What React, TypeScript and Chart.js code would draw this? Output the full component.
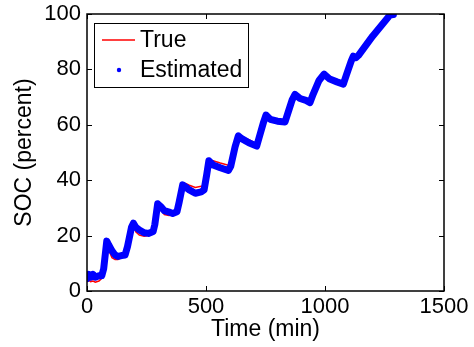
import React, { useEffect, useRef } from "react";
import { Chart, registerables } from "chart.js";

Chart.register(...registerables);

// Time in minutes
const timeMin = [
  0, 8, 15, 25, 35, 50, 62, 70, 83, 92, 105, 118, 130, 145, 160, 170, 187, 195,
  205, 220, 240, 258, 278, 285, 297, 310, 325, 345, 360, 378, 387, 402, 415, 430,
  455, 480, 492, 503, 512, 530, 560, 594, 604, 622, 636, 650, 680, 713, 722, 742,
  752, 770, 800, 832, 845, 862, 874, 895, 920, 937, 950, 975, 996, 1020, 1050,
  1077, 1090, 1110, 1119, 1130, 1140, 1200, 1273, 1287,
];

// True SOC (percent)
const socTrue = [
  3.5, 3.8, 3.4, 3.6, 3.2, 3.6, 4.6, 7.5, 17.5, 14.6, 12.0, 11.4, 11.4, 12.0, 12.6, 16.0, 23.0, 24.5,
  21.4, 20.2, 19.8, 20.0, 21.0, 24.0, 31.5, 29.4, 27.6, 27.3, 27.4, 28.4, 32.0, 38.6, 38.8, 38.2,
  37.4, 37.8, 37.8, 42.0, 47.0, 47.0, 46.2, 45.4, 45.6, 52.0, 56.0, 55.8, 54.6, 53.2, 55.0, 61.0,
  63.5, 62.3, 61.6, 61.3, 64.5, 69.0, 71.0, 69.8, 69.0, 68.3, 71.0, 76.0, 78.3, 76.8, 75.8,
  75.0, 78.0, 83.0, 84.8, 84.4, 85.0, 92.0, 99.6, 99.8,
];

// Estimated SOC (percent)
const socEst = [
  4.5, 6.0, 5.0, 6.0, 5.0, 5.5, 5.5, 8.0, 18.0, 16.5, 14.5, 13.0, 12.5, 12.8, 13.0, 16.0, 23.0, 24.5,
  23.0, 22.0, 21.0, 20.8, 21.5, 24.0, 31.5, 30.5, 29.0, 28.5, 28.0, 28.6, 32.0, 38.3, 37.5, 36.5,
  35.3, 35.8, 36.5, 42.0, 47.0, 45.5, 44.5, 43.5, 45.0, 52.0, 56.0, 55.0, 53.5, 52.3, 55.0, 61.0,
  63.5, 62.0, 61.3, 61.0, 64.5, 69.0, 71.0, 69.5, 68.8, 68.0, 71.0, 76.0, 78.3, 76.5, 75.5,
  74.7, 78.0, 83.0, 84.8, 84.2, 85.0, 92.0, 99.6, 99.8,
];

const xTicks = [0, 500, 1000, 1500];
const yTicks = [0, 20, 40, 60, 80, 100];

const FONT = "'Liberation Sans', Arial, Helvetica, sans-serif";

const matlabPlugin = {
  id: "matlabBox",
  afterDraw(chart: any) {
    const { ctx, chartArea: a, scales } = chart;
    ctx.save();
    ctx.strokeStyle = "#000";
    ctx.lineWidth = 1;
    const L = 5;
    const seg = (x1: number, y1: number, x2: number, y2: number) => {
      ctx.beginPath();
      ctx.moveTo(x1, y1);
      ctx.lineTo(x2, y2);
      ctx.stroke();
    };
    xTicks.forEach((v) => {
      const x = Math.round(scales.x.getPixelForValue(v)) + 0.5;
      seg(x, a.bottom, x, a.bottom - L);
      seg(x, a.top, x, a.top + L);
    });
    yTicks.forEach((v) => {
      const y = Math.round(scales.y.getPixelForValue(v)) + 0.5;
      seg(a.left, y, a.left + L, y);
      seg(a.right, y, a.right - L, y);
    });
    ctx.lineWidth = 1.5;
    ctx.strokeRect(a.left, a.top, a.right - a.left, a.bottom - a.top);

    // legend
    const ds = chart.data.datasets;
    const lx = a.left + 7;
    const ly = a.top + 9;
    const lw = 154;
    const lh = 64;
    ctx.fillStyle = "#fff";
    ctx.fillRect(lx, ly, lw, lh);
    ctx.lineWidth = 1;
    ctx.strokeStyle = "#000";
    ctx.strokeRect(lx + 0.5, ly + 0.5, lw, lh);
    ctx.font = `23px ${FONT}`;
    ctx.textBaseline = "middle";
    ctx.textAlign = "left";
    // True
    ctx.strokeStyle = ds[0].borderColor;
    ctx.lineWidth = 1.5;
    seg(lx + 8, ly + 17, lx + 41, ly + 17);
    ctx.fillStyle = "#000";
    ctx.fillText(ds[0].label, lx + 46, ly + 18);
    // Estimated
    ctx.fillStyle = ds[1].borderColor;
    ctx.beginPath();
    ctx.arc(lx + 25, ly + 47, 2.2, 0, Math.PI * 2);
    ctx.fill();
    ctx.fillStyle = "#000";
    ctx.fillText(ds[1].label, lx + 46, ly + 48);
    ctx.restore();
  },
};

export default function App() {
  const ref = useRef<HTMLCanvasElement>(null);
  useEffect(() => {
    document.body.style.margin = "0";
    const canvas = ref.current!;
    const chart = new Chart(canvas, {
      type: "line",
      data: {
        datasets: [
          {
            label: "True",
            data: timeMin.map((t, i) => ({ x: t, y: socTrue[i] })),
            borderColor: "#ff0000",
            borderWidth: 1.5,
            pointRadius: 0,
            order: 2,
          },
          {
            label: "Estimated",
            data: timeMin.map((t, i) => ({ x: t, y: socEst[i] })),
            borderColor: "#0000ff",
            backgroundColor: "#0000ff",
            borderWidth: 7,
            borderCapStyle: "round",
            borderJoinStyle: "round",
            pointRadius: 0,
            order: 1,
          },
        ],
      },
      options: {
        responsive: false,
        animation: false,
        layout: { padding: { left: 0, right: 30, top: 14, bottom: 0 } },
        plugins: { legend: { display: false }, tooltip: { enabled: false } },
        scales: {
          x: {
            type: "linear",
            min: 0,
            max: 1500,
            afterBuildTicks: (s: any) => {
              s.ticks = xTicks.map((v) => ({ value: v }));
            },
            afterFit: (s: any) => {
              s.height = 56;
              s.paddingLeft = 0;
              s.paddingRight = 0;
            },
            grid: { display: false, drawTicks: false },
            border: { display: false },
            ticks: {
              color: "#000",
              font: { family: FONT, size: 22 },
              padding: 3,
              maxRotation: 0,
              autoSkip: false,
              callback: (v: any) => String(v),
            },
            title: {
              display: true,
              text: "Time (min)",
              color: "#000",
              font: { family: FONT, size: 23 },
              padding: { top: 0, bottom: 4 },
            },
          },
          y: {
            type: "linear",
            min: 0,
            max: 100,
            afterBuildTicks: (s: any) => {
              s.ticks = yTicks.map((v) => ({ value: v }));
            },
            afterFit: (s: any) => {
              s.width = 87;
              s.paddingTop = 0;
              s.paddingBottom = 0;
            },
            grid: { display: false, drawTicks: false },
            border: { display: false },
            ticks: {
              color: "#000",
              font: { family: FONT, size: 22 },
              padding: 6,
              autoSkip: false,
              callback: (v: any) => String(v),
            },
            title: {
              display: true,
              text: "SOC (percent)",
              color: "#000",
              font: { family: FONT, size: 23 },
              padding: { top: 11, bottom: 0 },
            },
          },
        },
      },
      plugins: [matlabPlugin],
    });
    return () => chart.destroy();
  }, []);
  return (
    <div style={{ width: 474, height: 347 }}>
      <canvas ref={ref} width={474} height={347} />
    </div>
  );
}
